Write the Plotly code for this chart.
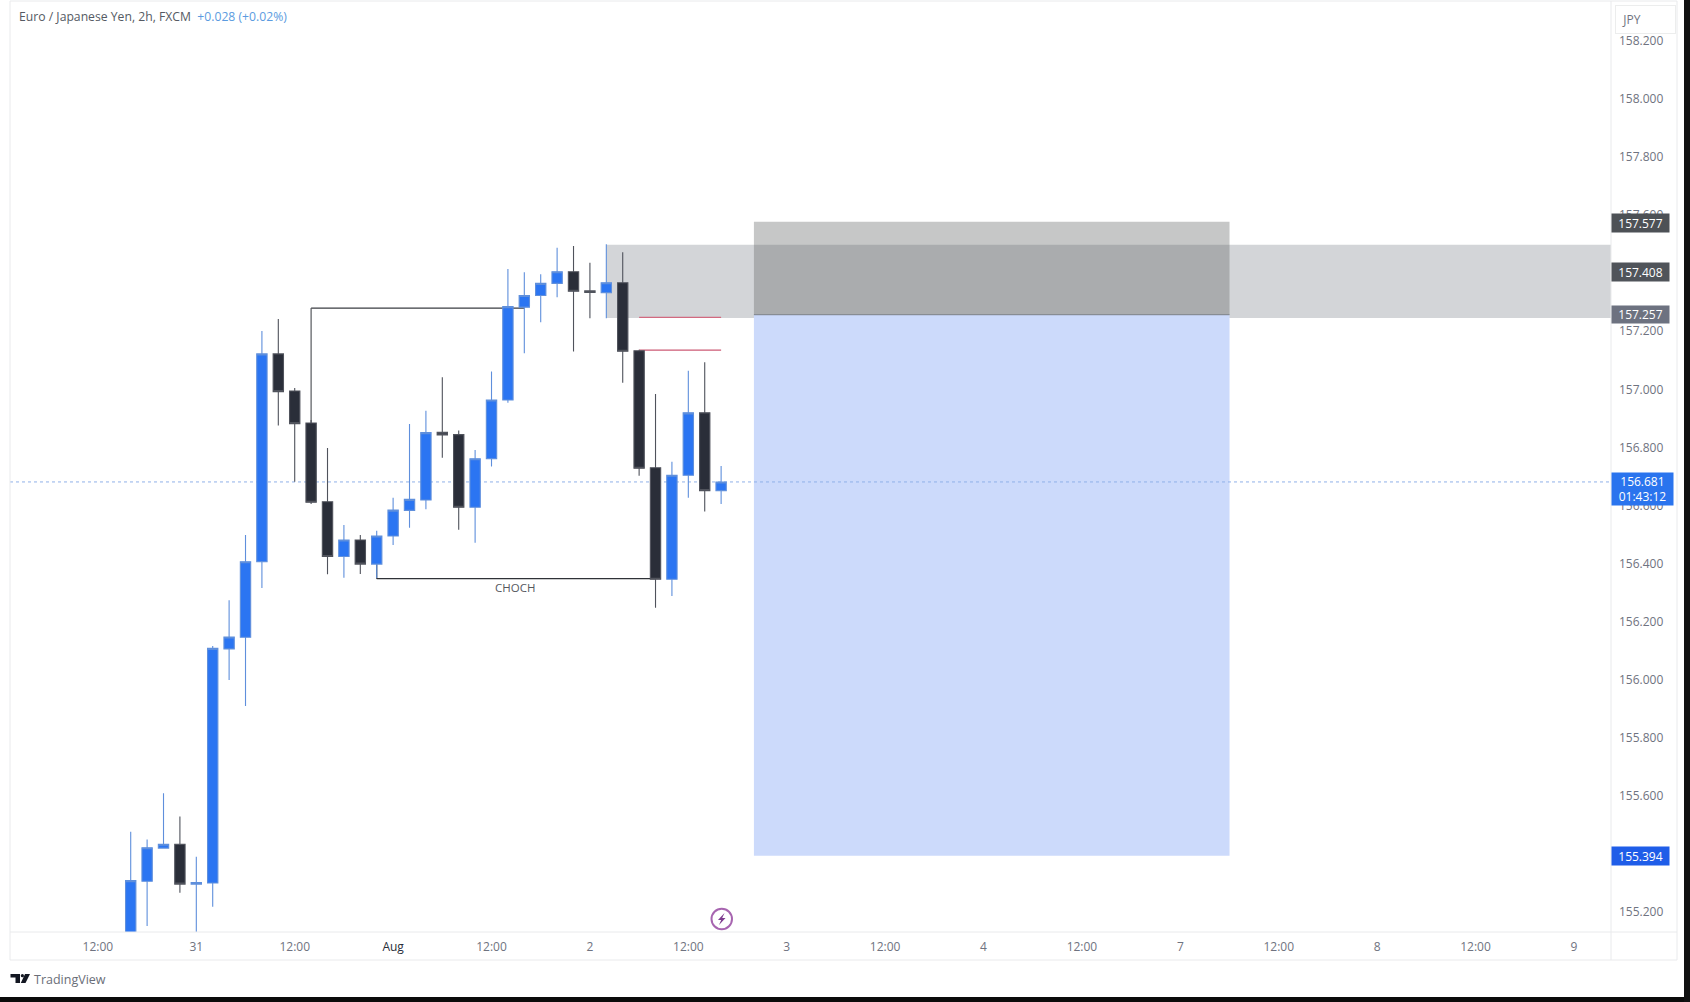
import plotly.graph_objects as go

# ---------- data ----------
bar_index = list(range(37))
opens = [155.050,155.306,155.420,155.433,155.296,155.300,156.106,156.146,156.406,157.122,156.994,156.884,156.613,156.424,156.481,156.398,156.495,156.583,156.619,156.852,156.844,156.594,156.761,156.963,157.283,157.323,157.365,157.405,157.339,157.333,157.367,157.133,156.730,156.346,156.704,156.919,156.651]
highs = [155.476,155.450,155.609,155.529,155.390,156.116,156.274,156.498,157.201,157.242,157.005,156.894,156.798,156.533,156.498,156.513,156.627,156.881,156.926,157.042,156.858,156.791,157.061,157.414,157.403,157.396,157.488,157.494,157.436,157.500,157.472,157.136,156.984,156.751,157.064,157.093,156.736]
lows = [155.000,155.152,155.420,155.266,155.120,155.218,155.999,155.909,156.316,156.875,156.682,156.605,156.363,156.351,156.364,156.350,156.464,156.523,156.587,156.764,156.516,156.472,156.734,156.954,157.124,157.231,157.317,157.130,157.245,157.245,157.023,156.702,156.248,156.288,156.627,156.579,156.605]
closes = [155.308,155.421,155.433,155.296,155.301,156.108,156.147,156.406,157.122,156.992,156.882,156.611,156.424,156.481,156.398,156.495,156.584,156.621,156.851,156.843,156.594,156.761,156.963,157.285,157.323,157.365,157.405,157.338,157.334,157.367,157.131,156.728,156.346,156.704,156.919,156.651,156.681]

x_tick_pos = [-2, 4, 10, 16, 22, 28, 34, 40, 46, 52, 58, 64, 70, 76, 82, 88]
x_tick_text = ["12:00", "31", "12:00", '<span style="color:#2a2e39">Aug</span>', "12:00", "2", "12:00", "3",
               "12:00", "4", "12:00", "7", "12:00", "8", "12:00", "9"]
y_ticks = [155.2, 155.4, 155.6, 155.8, 156.0, 156.2, 156.4, 156.6, 156.8, 157.0, 157.2, 157.4, 157.6, 157.8, 158.0, 158.2]

last_price = 156.681
entry_price = 157.257
stop_price = 157.577
target_price = 155.394
zone_top, zone_bottom, zone_label = 157.498, 157.246, 157.408
choch_upper, choch_lower = 157.280, 156.348
red_upper, red_lower = 157.248, 157.135

# ---------- layout helpers ----------
W, H = 1690, 1002
L, R, T, B = 10, 1611, 2, 932
FONT = "Open Sans"
GREY = "#6f7380"
BLUE = "#2b75f2"
DARK = "#2a2e39"

def px(x):
    return (x - L) / (R - L)

def py(y):
    return (B - y) / (B - T)

def path(points):
    return "M " + " L ".join(f"{px(a):.5f},{py(b):.5f}" for a, b in points) + " Z"

fig = go.Figure(go.Candlestick(
    x=bar_index, open=opens, high=highs, low=lows, close=closes,
    increasing=dict(fillcolor=BLUE, line=dict(color="#5f8fdc", width=1.1)),
    decreasing=dict(fillcolor=DARK, line=dict(color="#50535c", width=1.1)),
    whiskerwidth=0, showlegend=False, hoverinfo="skip",
))

shapes = []

def data_rect(x0, x1, y0, y1, fill, layer="below"):
    shapes.append(dict(type="rect", xref="x", yref="y", x0=x0, x1=x1, y0=y0, y1=y1,
                       fillcolor=fill, line_width=0, layer=layer))

def data_line(x0, y0, x1, y1, color, width=1.2, dash="solid", layer="below"):
    shapes.append(dict(type="line", xref="x", yref="y", x0=x0, x1=x1, y0=y0, y1=y1,
                       line=dict(color=color, width=width, dash=dash), layer=layer))

def page_line(x0, y0, x1, y1, color="#e9eaec", width=1):
    shapes.append(dict(type="line", xref="paper", yref="paper", x0=px(x0), x1=px(x1), y0=py(y0), y1=py(y1),
                       line=dict(color=color, width=width), layer="above"))

def page_rect(x0, y0, x1, y1, fill):
    shapes.append(dict(type="rect", xref="paper", yref="paper", x0=px(x0), x1=px(x1), y0=py(y0), y1=py(y1),
                       fillcolor=fill, line_width=0, layer="above"))

# zone, position boxes
shapes.append(dict(type="rect", xref="x", yref="y", x0=29, x1=90.26, y0=zone_bottom, y1=zone_top,
                   fillcolor="#d3d5d8", line_width=0, layer="below"))
data_rect(38, 67, target_price, entry_price, "#ccdafb")
data_rect(38, 67, entry_price, stop_price, "rgba(100,104,104,0.37)")
data_line(38, entry_price, 67, entry_price, "#7d8288", 1)

# structure lines
data_line(11, choch_upper, 24, choch_upper, "#3a3d42")
data_line(11, choch_upper, 11, opens[11], "#55585d")
data_line(15, choch_lower, 32, choch_lower, "#2f3237")
data_line(15, choch_lower, 15, opens[15], "#2f3237")
data_line(31, red_upper, 36, red_upper, "#d26a80")
data_line(31, red_lower, 36, red_lower, "#cc5a74")
data_line(-7.36, last_price, 90.26, last_price, "#8fb0e8", 1, "dot", "below")

# frame
page_line(10, 1, 1677, 1)
page_line(10, 1, 10, 960)
page_line(10, 932, 1677, 932)
page_line(10, 960, 1677, 960)
page_line(1611, 1, 1611, 960)
page_line(1677, 1, 1677, 960)

# screenshot dark edges
page_rect(0, 997, 1690, 1002, "#0b0b0b")
page_rect(1684, 0, 1690, 1002, "#111111")

# TradingView logo
logo = "#131722"
shapes.append(dict(type="path", xref="paper", yref="paper", fillcolor=logo, line_width=0, layer="above",
                   path=path([(10.5, 974), (20, 974), (20, 983), (15.5, 983), (15.5, 977.5), (10.5, 977.5)])))
shapes.append(dict(type="path", xref="paper", yref="paper", fillcolor=logo, line_width=0, layer="above",
                   path=path([(25, 974), (30, 974), (25.5, 983), (20.8, 983)])))
shapes.append(dict(type="circle", xref="paper", yref="paper", fillcolor=logo, line_width=0, layer="above",
                   x0=px(20.8), x1=px(24), y0=py(977.3), y1=py(974)))

# lightning marker
shapes.append(dict(type="circle", xref="paper", yref="paper", fillcolor="rgba(255,255,255,0)",
                   line=dict(color="#a765b0", width=2), layer="above",
                   x0=px(711.5), x1=px(732), y0=py(929.3), y1=py(908.7)))
shapes.append(dict(type="path", xref="paper", yref="paper", fillcolor="#7d3c8e", line_width=0, layer="above",
                   path=path([(724.5, 913), (718, 920), (721.2, 920), (719, 925), (725.5, 918), (722.2, 918)])))

annotations = []

def price_tag(text, y0, y1, fill, x1=1668):
    annotations.append(dict(xref="paper", yref="paper", x=px(1611), y=py((y0 + y1) / 2), xanchor="left", yanchor="middle",
                            text=text, showarrow=False, width=x1 - 1611, height=y1 - y0, bgcolor=fill, borderpad=0,
                            align="center", valign="middle", font=dict(family=FONT, size=12, color="#ffffff")))

price_tag("157.577", 214, 232, "#4d5156")
price_tag("157.408", 263, 281, "#50545a")
price_tag("157.257", 306, 323, "#6d7280")
price_tag("155.394", 847, 865, "#1f5de8")
price_tag("156.681<br>01:43:12", 473, 505, "#2a74ee", 1672)

annotations.append(dict(xref="paper", yref="paper", x=px(1615), y=py(19), xanchor="left", yanchor="middle",
                        text="&nbsp;&nbsp;JPY", align="left",
                        showarrow=False, width=57, height=25, bgcolor="#ffffff", bordercolor="#eceded", borderwidth=1,
                        font=dict(family=FONT, size=12, color=GREY)))
annotations.append(dict(xref="paper", yref="paper", x=px(17), y=py(17), xanchor="left", yanchor="middle", showarrow=False,
                        text='Euro / Japanese Yen, 2h, FXCM&nbsp;&nbsp;<span style="color:#5b9be0">+0.028 (+0.02%)</span>',
                        font=dict(family=FONT, size=12.2, color="#555a63")))
annotations.append(dict(xref="x", yref="y", x=23.45, y=156.317, xanchor="center", yanchor="middle", showarrow=False,
                        text="CHOCH", font=dict(family=FONT, size=11.5, color="#55585d")))
annotations.append(dict(xref="paper", yref="paper", x=px(32), y=py(979), xanchor="left", yanchor="middle", showarrow=False,
                        text="TradingView", font=dict(family=FONT, size=12.5, color="#6a6e78")))

fig.update_layout(
    width=W, height=H,
    margin=dict(l=L, r=W - R, t=T, b=H - B, pad=0),
    paper_bgcolor="#ffffff", plot_bgcolor="#ffffff",
    boxgap=0.37, boxgroupgap=0,
    shapes=shapes, annotations=annotations,
    font=dict(family=FONT, size=12, color=GREY),
    xaxis=dict(range=[-7.36, 90.26], tickmode="array", tickvals=x_tick_pos, ticktext=x_tick_text,
               showgrid=False, zeroline=False, showline=False, ticks="", ticklabelstandoff=6,
               tickfont=dict(family=FONT, size=12, color=GREY), rangeslider=dict(visible=False)),
    yaxis=dict(range=[155.131, 158.334], side="right", tickmode="array", tickvals=y_ticks,
               tickformat=".3f", showgrid=False, zeroline=False, showline=False, ticks="", ticklabelstandoff=7,
               tickfont=dict(family=FONT, size=12, color=GREY)),
)

fig.write_html("out.html", config=dict(displayModeBar=False),
               post_script="document.body.style.margin='0';document.documentElement.style.overflow='hidden';")
